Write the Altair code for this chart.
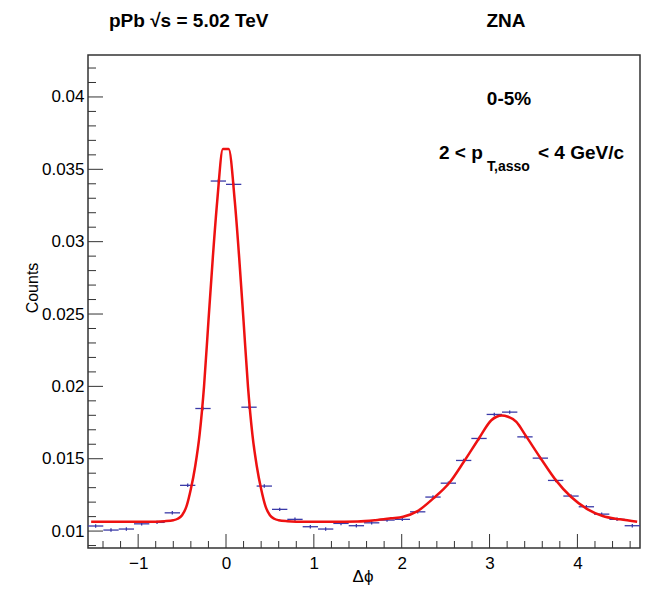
import altair as alt
import pandas as pd

# ---- data ----
bin_centers = [-1.484, -1.309, -1.134, -0.960, -0.785, -0.611, -0.436, -0.262, -0.087, 0.087,
               0.262, 0.436, 0.611, 0.785, 0.960, 1.134, 1.309, 1.484, 1.658, 1.833,
               2.007, 2.182, 2.356, 2.531, 2.705, 2.880, 3.054, 3.229, 3.403, 3.578,
               3.752, 3.927, 4.102, 4.276, 4.451, 4.625]
counts = [0.01035, 0.01007, 0.01014, 0.01050, 0.01060, 0.01126, 0.01316, 0.01847, 0.03419, 0.03396,
          0.01856, 0.01311, 0.01150, 0.01081, 0.01030, 0.01014, 0.01053, 0.01037, 0.01057, 0.01076,
          0.01081, 0.01133, 0.01235, 0.01331, 0.01488, 0.01640, 0.01806, 0.01822, 0.01651, 0.01504,
          0.01350, 0.01242, 0.01168, 0.01117, 0.01081, 0.01037]
half_width = 0.0873
err = 0.00012

fit_x = [-1.535, -1.2, -1.0, -0.8, -0.7, -0.6, -0.55, -0.5, -0.45, -0.4, -0.35, -0.3, -0.25, -0.2,
         -0.15, -0.1, -0.035, 0.03, 0.1, 0.15, 0.2, 0.25, 0.3, 0.35, 0.4, 0.45, 0.5, 0.55, 0.6,
         0.7, 0.8, 1.0, 1.2, 1.5, 1.7, 1.877, 2.017, 2.18, 2.36, 2.543, 2.707, 2.879, 3.02, 3.08,
         3.14, 3.21, 3.305, 3.408, 3.583, 3.754, 3.926, 4.117, 4.288, 4.486, 4.68]
fit_y = [0.01064, 0.01064, 0.01064, 0.01065, 0.01068, 0.01075, 0.01085, 0.01110, 0.01170, 0.01290,
         0.01450, 0.01670, 0.02000, 0.02450, 0.02890, 0.03280, 0.03640, 0.03640, 0.03280, 0.02890,
         0.02450, 0.02000, 0.01670, 0.01450, 0.01290, 0.01170, 0.01110, 0.01085, 0.01075, 0.01068,
         0.01065, 0.01064, 0.01064, 0.01066, 0.01075, 0.01088, 0.01099, 0.01138, 0.01226, 0.01334,
         0.01479, 0.01640, 0.01766, 0.01790, 0.01799, 0.01790, 0.01755, 0.01663, 0.01502, 0.01352,
         0.01237, 0.01150, 0.01104, 0.01081, 0.01064]

x_major = [-1, 0, 1, 2, 3, 4]
x_minor = [-1.4, -1.2, -0.8, -0.6, -0.4, -0.2, 0.2, 0.4, 0.6, 0.8, 1.2, 1.4, 1.6, 1.8,
           2.2, 2.4, 2.6, 2.8, 3.2, 3.4, 3.6, 3.8, 4.2, 4.4, 4.6]
y_major = [0.01, 0.015, 0.02, 0.025, 0.03, 0.035, 0.04]
y_minor = [0.009, 0.011, 0.012, 0.013, 0.014, 0.016, 0.017, 0.018, 0.019, 0.021, 0.022, 0.023,
           0.024, 0.026, 0.027, 0.028, 0.029, 0.031, 0.032, 0.033, 0.034, 0.036, 0.037, 0.038,
           0.039, 0.041, 0.042]

W, H = 552, 493
FONT = "Liberation Sans"
BLUE = "#3a3aa8"
RED = "#ee1111"
FRAME = "#333333"

xs = alt.Scale(domain=[-1.5708, 4.7124], zero=False, nice=False)
ys = alt.Scale(domain=[0.00883, 0.0429], zero=False, nice=False)

pts = pd.DataFrame({
    "x": bin_centers,
    "y": counts,
    "lo": [c - half_width for c in bin_centers],
    "hi": [c + half_width for c in bin_centers],
    "ylo": [v - err for v in counts],
    "yhi": [v + err for v in counts],
})
fit = pd.DataFrame({"x": fit_x, "y": fit_y, "i": list(range(len(fit_x)))})

xaxis = alt.Axis(values=x_major, format="d", title=None, grid=False, domain=False, ticks=False,
                 labelFontSize=17, labelFont=FONT, labelColor="black", labelPadding=7)
yaxis = alt.Axis(values=y_major, title=None, grid=False, domain=False, ticks=False,
                 labelFontSize=17, labelFont=FONT, labelColor="black", labelPadding=4,
                 labelExpr="format(datum.value, '.3~f')")

hbars = alt.Chart(pts).mark_rule(color=BLUE, strokeWidth=1.3).encode(
    x=alt.X("lo:Q", scale=xs, axis=xaxis),
    x2="hi:Q",
    y=alt.Y("y:Q", scale=ys, axis=yaxis),
)
vbars = alt.Chart(pts).mark_rule(color=BLUE, strokeWidth=1.3).encode(
    x=alt.X("x:Q", scale=xs, axis=xaxis),
    y=alt.Y("ylo:Q", scale=ys, axis=yaxis),
    y2="yhi:Q",
)
curve = alt.Chart(fit).mark_line(color=RED, strokeWidth=2.5, interpolate="monotone").encode(
    x=alt.X("x:Q", scale=xs, axis=xaxis),
    y=alt.Y("y:Q", scale=ys, axis=yaxis),
    order="i:Q",
)

def xticks(vals, length):
    return alt.Chart(pd.DataFrame({"v": vals})).mark_rule(color=FRAME, strokeWidth=1).encode(
        x=alt.X("v:Q", scale=xs, axis=xaxis), y=alt.value(H), y2=alt.value(H - length))

def yticks(vals, length):
    return alt.Chart(pd.DataFrame({"v": vals})).mark_rule(color=FRAME, strokeWidth=1).encode(
        y=alt.Y("v:Q", scale=ys, axis=yaxis), x=alt.value(0), x2=alt.value(length))

def label(text, x, y, size=19, weight="bold", align="left", angle=0):
    return alt.Chart(pd.DataFrame({"t": [text]})).mark_text(
        font=FONT, fontSize=size, fontWeight=weight, align=align, baseline="alphabetic",
        angle=angle, color="black").encode(x=alt.value(x), y=alt.value(y), text="t:N")

texts = [
    label("pPb  \u221As = 5.02 TeV", 21, -28),
    label("ZNA", 418, -28, align="center"),
    label("0-5%", 421, 50, align="center"),
    label("2 < p", 351, 104),
    label("T,asso", 399, 116, size=14),
    label("< 4 GeV/c", 450, 104),
    label("\u0394\u03d5", 275, 527, size=17, weight="normal", align="center"),
    label("Counts", -50, 233, size=16, weight="normal", align="center", angle=270),
]

chart = alt.layer(
    hbars, vbars, curve,
    xticks(x_major, 14), xticks(x_minor, 7), yticks(y_major, 15), yticks(y_minor, 8),
    *texts
).properties(
    width=W, height=H,
    autosize=alt.AutoSizeParams(type="none"),
    padding={"left": 80, "top": 47, "right": 8, "bottom": 42},
).configure_view(stroke=FRAME, strokeWidth=1.5)

chart.save("out.html", embed_options={"renderer": "svg", "actions": False})
